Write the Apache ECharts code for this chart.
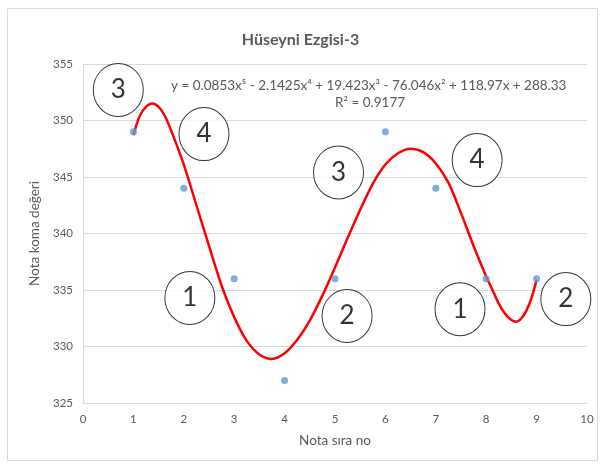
<!DOCTYPE html>
<html>
<head>
<meta charset="utf-8">
<script src="https://cdn.jsdelivr.net/npm/echarts@6/dist/echarts.min.js"></script>
<style>
  html, body { margin: 0; padding: 0; background: #fff; }
  #chart { width: 601px; height: 468px; }
</style>
</head>
<body>
<div id="chart"></div>
<script>
// measured points (Nota sıra no -> Nota koma değeri)
const noteNo = [1, 2, 3, 4, 5, 6, 7, 8, 9];
const komaValue = [349, 344, 336, 327, 336, 349, 344, 336, 336];

// trendline
const trendX = [1, 1.125, 1.25, 1.375, 1.5, 1.625, 1.75, 2, 2.25, 2.5, 2.75, 3, 3.25, 3.5, 3.75, 4, 4.25, 4.5, 4.75,
                5, 5.25, 5.5, 5.75, 6, 6.25, 6.5, 6.75, 7, 7.25, 7.5, 7.75, 8, 8.125, 8.25, 8.375, 8.5,
                8.6, 8.7, 8.8, 8.9, 9];
const trendY = [348.7, 350.4, 351.2, 351.5, 351.2, 350.4, 349.1, 346.1, 342.5, 338.9, 335.4, 332.6, 330.5,
                329.3, 328.9, 329.4, 330.6, 332.3, 334.5, 337.0, 339.6, 342.1, 344.4, 346.1, 347.1, 347.5,
                347.2, 346.2, 344.5, 341.8, 338.9, 336.2, 335.0, 333.8, 332.9, 332.35, 332.2, 332.5, 333.2,
                334.3, 335.9];

// circled numbers drawn on the chart
const markX = [0.70, 2.40, 5.07, 7.82, 2.12, 5.24, 7.48, 9.58];
const markY = [352.7, 348.8, 345.4, 346.5, 334.3, 332.7, 333.3, 334.2];
const markText = ['3', '4', '3', '4', '1', '2', '1', '2'];

const titleText = 'Hüseyni Ezgisi-3';
const equationText = 'y = 0.0853x⁵ - 2.1425x⁴ + 19.423x³ - 76.046x² + 118.97x + 288.33';
const r2Text = 'R² = 0.9177';

const grey = '#595959';
const gridGrey = '#d9d9d9';
const font = 'Lato, "Open Sans", sans-serif';

const chart = echarts.init(document.getElementById('chart'));

const option = {
    animation: false,
    backgroundColor: '#fff',
    textStyle: { fontFamily: font },
    title: {
        text: titleText,
        left: 'center',
        top: 27,
        textStyle: { color: grey, fontSize: 16, fontWeight: 'bold', fontFamily: font }
    },
    graphic: [
        {
            type: 'rect',
            shape: { x: 7.5, y: 8.5, width: 590, height: 452 },
            style: { fill: 'none', stroke: gridGrey, lineWidth: 1 },
            z: 0
        },
        {
            type: 'text',
            left: 171,
            top: 79,
            style: { text: equationText, fill: grey, fontSize: 13.5, fontFamily: font },
            z: 10
        },
        {
            type: 'text',
            left: 335,
            top: 96,
            style: { text: r2Text, fill: grey, fontSize: 13.5, fontFamily: font },
            z: 10
        }
    ],
    grid: { left: 83, right: 14, top: 64, bottom: 65 },
    xAxis: {
        type: 'value',
        min: 0,
        max: 10,
        interval: 1,
        name: 'Nota sıra no',
        nameLocation: 'middle',
        nameGap: 31,
        nameTextStyle: { color: grey, fontSize: 13.5 },
        axisLine: { show: true, lineStyle: { color: gridGrey } },
        axisTick: { show: false },
        splitLine: { show: false },
        axisLabel: { color: grey, fontSize: 11.5, margin: 10 }
    },
    yAxis: {
        type: 'value',
        min: 325,
        max: 355,
        interval: 5,
        name: 'Nota koma değeri',
        nameLocation: 'middle',
        nameGap: 40,
        nameTextStyle: { color: grey, fontSize: 13.5 },
        axisLine: { show: true, lineStyle: { color: gridGrey } },
        axisTick: { show: false },
        splitLine: { show: true, lineStyle: { color: gridGrey } },
        axisLabel: { color: grey, fontSize: 11.5, margin: 10 }
    },
    series: [
        {
            name: 'trend',
            type: 'line',
            data: trendX.map((x, i) => [x, trendY[i]]),
            smooth: 0.3,
            showSymbol: false,
            lineStyle: { color: '#ff0000', width: 2.5 },
            z: 3
        },
        {
            name: 'koma',
            type: 'scatter',
            data: noteNo.map((x, i) => [x, komaValue[i]]),
            symbolSize: 7,
            itemStyle: { color: '#5b9bd5' },
            z: 4
        },
        {
            name: 'marks',
            type: 'scatter',
            data: markX.map((x, i) => ({ value: [x, markY[i]], label: { formatter: markText[i] } })),
            symbol: 'circle',
            symbolSize: [50, 53],
            itemStyle: { color: '#fff', borderColor: '#000', borderWidth: 1 },
            label: {
                show: true,
                position: 'inside',
                color: '#000',
                fontSize: 26,
                fontFamily: font
            },
            z: 5
        }
    ]
};

chart.setOption(option);
</script>
</body>
</html>
